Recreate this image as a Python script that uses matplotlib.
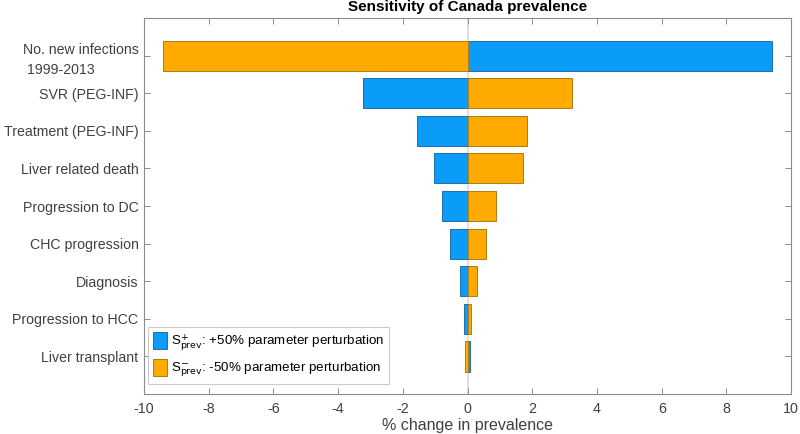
import matplotlib
matplotlib.use("Agg")
import matplotlib.pyplot as plt
from matplotlib.patches import Patch

plt.rcParams['font.family'] = ['Liberation Sans', 'DejaVu Sans']

categories = ["No. new infections\n 1999-2013", "SVR (PEG-INF)", "Treatment (PEG-INF)",
              "Liver related death", "Progression to DC", "CHC progression",
              "Diagnosis", "Progression to HCC", "Liver transplant"]
plus50 = [9.42, -3.24, -1.57, -1.04, -0.80, -0.55, -0.25, -0.11, 0.06]
minus50 = [-9.40, 3.23, 1.84, 1.70, 0.89, 0.58, 0.29, 0.11, -0.08]
xticks = [-10, -8, -6, -4, -2, 0, 2, 4, 6, 8, 10]

blue = '#0A9CF8'
orange = '#FFAA00'
blue_edge = '#1F6FA8'
orange_edge = '#B07B10'

fig = plt.figure(figsize=(8, 4.34), dpi=100)
ax = fig.add_axes([0.18, 0.092, 0.809, 0.8665])

pos = list(range(1, len(categories) + 1))
ax.axvline(0, color='#D9D9D9', lw=1.2, zorder=0)
ax.barh(pos, plus50, height=0.8, color=blue, edgecolor=blue_edge, lw=0.7, zorder=2)
ax.barh(pos, minus50, height=0.8, color=orange, edgecolor=orange_edge, lw=0.7, zorder=2)

ax.set_ylim(10, 0)
ax.set_xlim(-10, 10)
ax.set_yticks(pos)
ax.set_yticklabels(categories, fontsize=10.2, color='#404040', linespacing=1.5)
for t in ax.get_yticklabels():
    t.set_multialignment('left')
ax.set_xticks(xticks)
ax.set_xticklabels([str(v) for v in xticks], fontsize=10.3, color='#404040')
ax.tick_params(axis='both', direction='in', length=4, color='#8C8C8C',
               top=True, right=True, width=0.7)
ax.tick_params(axis='y', pad=4)
ax.tick_params(axis='x', pad=6)
for s in ax.spines.values():
    s.set_color('#8C8C8C')
    s.set_linewidth(0.8)

ax.set_xlabel('% change in prevalence', fontsize=11.5, color='#404040', labelpad=1)
ax.set_title('Sensitivity of Canada prevalence', fontsize=11, fontweight='bold', pad=5)

handles = [Patch(facecolor=blue, edgecolor=blue_edge, lw=0.7),
           Patch(facecolor=orange, edgecolor=orange_edge, lw=0.7)]
labels = [r'S$^{+}_{\mathrm{prev}}$: +50% parameter perturbation',
          r'S$^{-}_{\mathrm{prev}}$: -50% parameter perturbation']
leg = ax.legend(handles, labels, loc='lower left', fontsize=9.6, frameon=True,
                fancybox=False, edgecolor='#BFBFBF', handlelength=1.05,
                handleheight=1.65, handletextpad=0.3, borderpad=0.35,
                labelspacing=0.45, borderaxespad=0.0,
                bbox_to_anchor=(0.006, 0.027))
leg.get_frame().set_linewidth(0.8)

fig.savefig('out.png', dpi=100)
